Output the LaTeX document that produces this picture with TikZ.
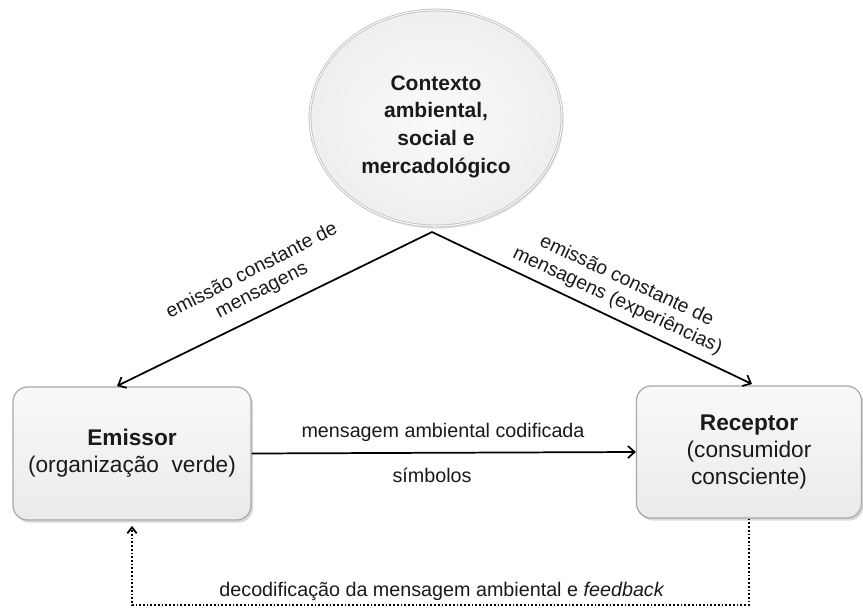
\documentclass[tikz,border=0pt]{standalone}
\usepackage{fontspec}
\setmainfont{Liberation Sans}
\usetikzlibrary{arrows.meta,shapes.geometric,shadows}

\definecolor{boxedge}{HTML}{A8A8A8}
\definecolor{inktext}{HTML}{1A1A1A}

\begin{document}
\begin{tikzpicture}[x=0.75pt,y=-0.75pt,
  ctxshape/.style={ellipse, draw=gray!50, double=gray!4, double distance=0.8pt,
    line width=0.6pt, inner sep=0pt,
    inner color=gray!4, outer color=gray!13,
    drop shadow={shadow xshift=1pt, shadow yshift=-2pt, opacity=0.22},
    minimum width=189pt, minimum height=162pt, align=center,
    text=inktext, font=\fontsize{15.75}{20.8}\selectfont\bfseries},
  agent/.style={rectangle, rounded corners=11pt, draw=boxedge, line width=0.9pt,
    top color=gray!5, bottom color=gray!16,
    drop shadow={shadow xshift=1.5pt, shadow yshift=-2pt, opacity=0.3},
    align=center, text=inktext, font=\fontsize{17}{20.3}\selectfont},
  flow/.style={draw=black, line width=1.3pt, -{Straight Barb[length=5pt,width=9pt]}},
  feedback/.style={draw=black, line width=1.3pt, dash pattern=on 1.3pt off 1.5pt,
    -{Straight Barb[length=4.5pt,width=7pt]}},
  slantnote/.style={align=center, inner sep=0pt, text=inktext,
    font=\fontsize{14.6}{16.5}\selectfont},
  midtext/.style={inner sep=0pt, text=inktext, font=\fontsize{14.8}{17}\selectfont}]

\useasboundingbox (0,0) rectangle (863,610);

% the three parties of the communication process
\node[ctxshape] (ctx) at (436,118)
  {\rule{0pt}{24pt}Contexto\\ambiental,\\social e\\mercadológico};
\node[agent, minimum width=178.5pt, minimum height=99.75pt] (emi) at (132,453.5)
  {\textbf{Emissor}\\(organização\ \ verde)};
\node[agent, minimum width=168.75pt, minimum height=99pt] (rec) at (749,452)
  {\textbf{Receptor}\\(consumidor\\consciente)};

% meeting point of the two context arrows and their ends on the boxes
\coordinate (apex) at (432,232);
\coordinate (emiIn) at (117,386);
\coordinate (recIn) at (752,384);
\coordinate (fbBase) at (0,605);

\draw[flow] (apex) -- (emiIn);
\draw[flow] (apex) -- (recIn);
\draw[flow] (emi.east) -- (rec.west);

% feedback loop back to the sender
\draw[feedback, shorten >=4pt] (rec.south) -- (rec.south |- fbBase)
  -- (emi.south |- fbBase) -- (emi.south);

% labels
\node[slantnote, rotate=27] (lblL) at (257,281) {emissão constante de\\mensagens};
\node[slantnote, rotate=-25] (lblR) at (622,291) {emissão constante de\\mensagens (experiências)};
\node[midtext] (lblMsg) at (443,432) {mensagem ambiental codificada};
\node[midtext] (lblSym) at (432,475) {símbolos};
\node[midtext] (lblFb) at (442,591) {decodificação da mensagem ambiental e \textit{feedback}};

\end{tikzpicture}
\end{document}
